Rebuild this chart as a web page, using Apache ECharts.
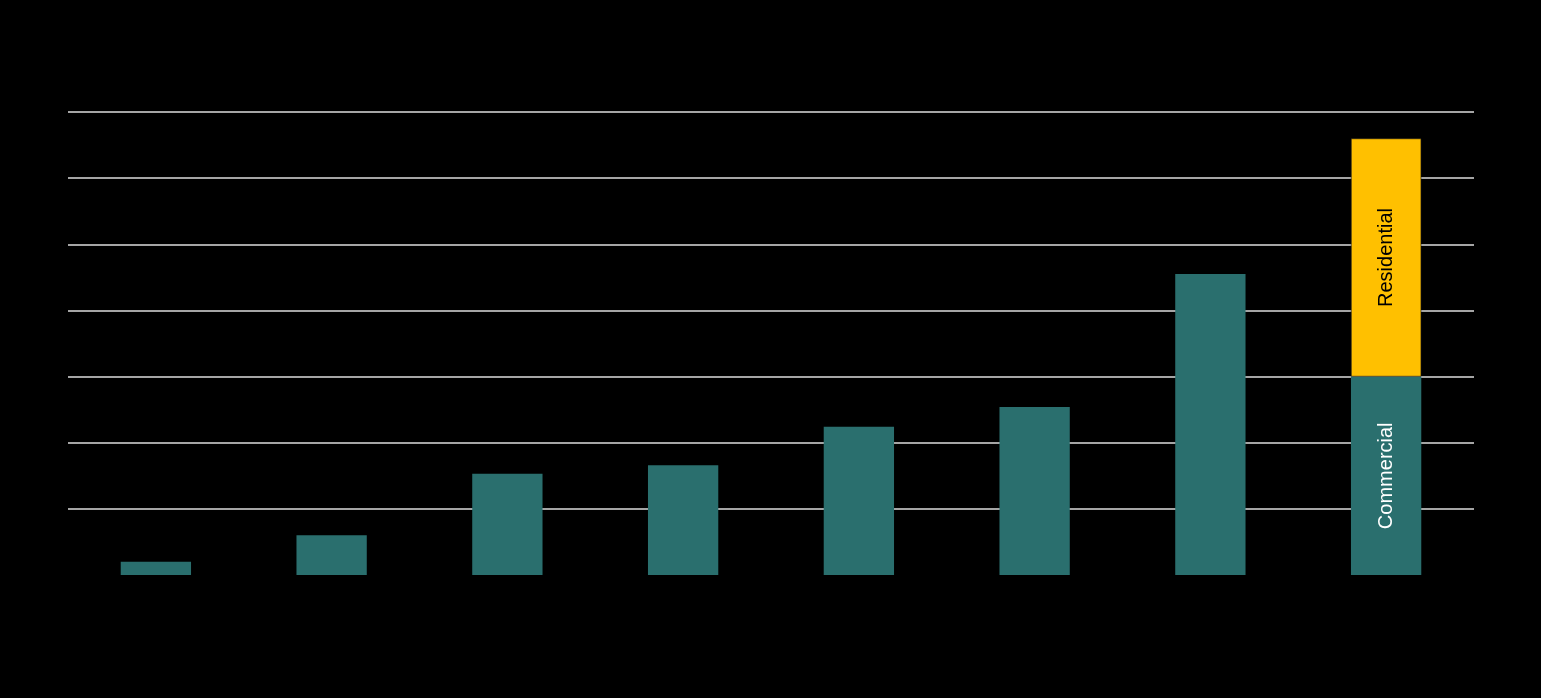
<!DOCTYPE html>
<html>
<head>
<meta charset="utf-8">
<script src="https://cdn.jsdelivr.net/npm/echarts@6/dist/echarts.min.js"></script>
<style>
html,body{margin:0;padding:0;background:#000;}
#chart{width:1541px;height:698px;}
</style>
</head>
<body>
<div id="chart"></div>
<script>
const categories = ['1', '2', '3', '4', '5', '6', '7', '8'];
const commercial = [2, 6, 15.3, 16.6, 22.4, 25.4, 45.5, 30];
const residential = [null, null, null, null, null, null, null, 36];
const seriesNames = ['Commercial', 'Residential'];
const yTicks = { min: 0, max: 70, interval: 10 };

const chart = echarts.init(document.getElementById('chart'), null, { renderer: 'canvas' });
chart.setOption({
  backgroundColor: '#000000',
  animation: false,
  grid: { left: 68, right: 67, top: 112, bottom: 123, containLabel: false },
  xAxis: {
    type: 'category',
    data: categories,
    axisLine: { show: false },
    axisTick: { show: false },
    axisLabel: { show: false }
  },
  yAxis: {
    type: 'value',
    min: yTicks.min, max: yTicks.max, interval: yTicks.interval,
    axisLine: { show: false },
    axisTick: { show: false },
    axisLabel: { color: '#000000', fontFamily: 'Liberation Sans', fontSize: 12, margin: 4 },
    splitLine: {
      lineStyle: { color: '#dcdcdc', width: 1.5 },
      showMinLine: false
    }
  },
  series: [
    {
      name: seriesNames[0],
      type: 'bar',
      stack: 'total',
      data: commercial,
      barWidth: '40%',
      itemStyle: { color: '#2a6f6e' },
      label: {
        show: true,
        formatter: (p) => p.dataIndex === 7 ? seriesNames[0] : '',
        position: 'inside',
        rotate: 90,
        color: '#ffffff',
        fontFamily: 'Liberation Sans',
        fontSize: 20
      }
    },
    {
      name: seriesNames[1],
      type: 'bar',
      stack: 'total',
      data: residential,
      barWidth: '40%',
      itemStyle: { color: '#ffc000', borderColor: '#1a1a1a', borderWidth: 0.6 },
      label: {
        show: true,
        formatter: seriesNames[1],
        position: 'inside',
        rotate: 90,
        color: '#000000',
        fontFamily: 'Liberation Sans',
        fontSize: 20
      }
    }
  ]
});
</script>
</body>
</html>
